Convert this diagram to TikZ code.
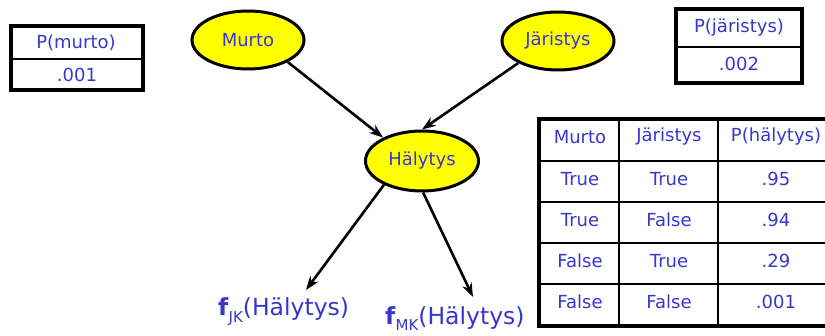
\documentclass[tikz,border=0pt]{standalone}
\usepackage{fontspec}
\setmainfont{DejaVu Sans}
\usetikzlibrary{shapes.geometric,arrows.meta}
\definecolor{txtblue}{RGB}{55,55,205}
\definecolor{nodeyellow}{RGB}{255,255,0}
\begin{document}
\begin{tikzpicture}[x=1pt,y=-1pt,
	var/.style={ellipse,draw,line width=3pt,fill=nodeyellow,minimum width=112pt,minimum height=58pt,inner sep=0pt,text=txtblue,font=\fontsize{18}{21}\selectfont},
	cell/.style={text=txtblue,font=\fontsize{18}{21}\selectfont,inner sep=0pt},
	factor/.style={text=txtblue,font=\fontsize{23.5}{27}\selectfont,inner sep=0pt,anchor=base west},
	link/.style={line width=2.6pt,-{Stealth[length=14pt,width=10pt]}},
	tabframe/.style={line width=3.5pt},
	tabrule/.style={line width=1.4pt}]
	\useasboundingbox (0,0) rectangle (825,336);
	% network
	\node[var] (murto) at (248,40) {Murto};
	\node[var] (jaristys) at (558,41) {Järistys};
	\node[var,minimum width=113pt,minimum height=60pt] (halytys) at (422,161) {Hälytys};
	\node[factor] (fjk) at (218,316) {\textbf{f}\raisebox{-0.5ex}{\fontsize{15}{15}\selectfont JK}(Hälytys)};
	\node[factor] (fmk) at (385,325) {\textbf{f}\raisebox{-0.4ex}{\fontsize{15}{15}\selectfont MK}(Hälytys)};
	\coordinate (jktip) at (306,290);
	\coordinate (mktip) at (473,297);
	\draw[link] (murto.331) -- (halytys.149);
	\draw[link] (jaristys.209) -- (halytys.north);
	\draw[link] (halytys.212) -- (jktip);
	\draw[link] (halytys.272) -- (mktip);
	% prior tables
	\draw[tabframe] (11,26) rectangle (143,90);
	\draw[tabrule] (11,59) -- (143,59);
	\node[cell] (pmurto) at (76,43) {P(murto)};
	\node[cell] (pmurtoval) at (77,75) {.001};
	\draw[tabframe] (676,9) rectangle (802,83);
	\draw[tabrule] (676,47) -- (802,47);
	\node[cell] (pjar) at (739,28) {P(järistys)};
	\node[cell] (pjarval) at (739,64) {.002};
	% cpt of halytys
	\draw[tabframe] (826,119) -- (539,119) -- (539,326) -- (826,326);
	\foreach \y in {161,202,243,284}
	\draw[tabrule] (539,\y) -- (826,\y);
	\foreach \x in {619,718}
	\draw[tabrule] (\x,119) -- (\x,326);
	\node[cell] (hm) at (580,137) {Murto};
	\node[cell] (hj) at (669,137) {Järistys};
	\node[cell] (hp) at (776,137) {P(hälytys)};
	\foreach \y/\a/\b/\p in {179/True/True/.95,220/True/False/.94,261/False/True/.29,302/False/False/.001}{
		\node[cell] (m\y) at (580,\y) {\a};
		\node[cell] (j\y) at (669,\y) {\b};
		\node[cell] (p\y) at (776,\y) {\p};
	}
\end{tikzpicture}
\end{document}
